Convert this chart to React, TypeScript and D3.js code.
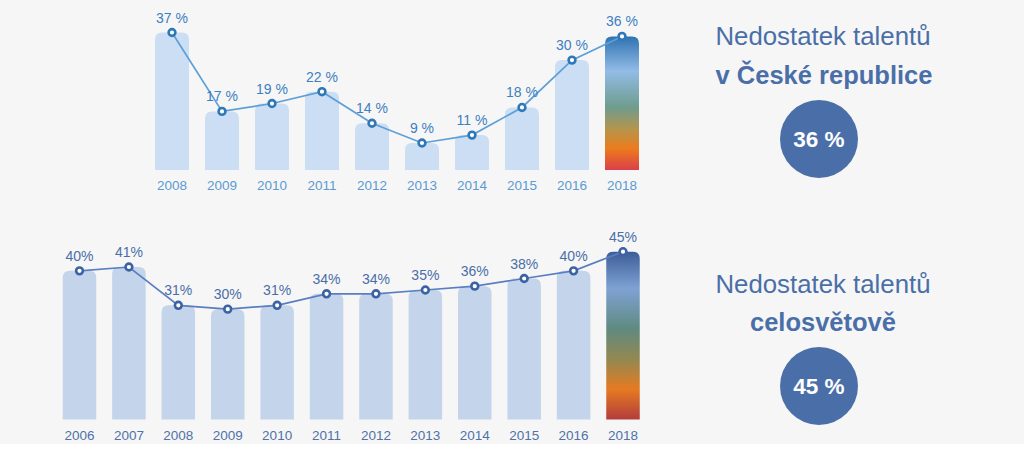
import React from "react";
import * as d3 from "d3";

const czYears = ["2008", "2009", "2010", "2011", "2012", "2013", "2014", "2015", "2016", "2018"];
const czValues = [37, 17, 19, 22, 14, 9, 11, 18, 30, 36];
const worldYears = ["2006", "2007", "2008", "2009", "2010", "2011", "2012", "2013", "2014", "2015", "2016", "2018"];
const worldValues = [40, 41, 31, 30, 31, 34, 34, 35, 36, 38, 40, 45];
const titleRegular = "Nedostatek talentů";
const czTitleBold = "v České republice";
const worldTitleBold = "celosvětově";

const FONT = "'Liberation Sans', Arial, Helvetica, sans-serif";

function topRounded(x: number, y: number, w: number, h: number, r: number) {
  const rr = Math.min(r, w / 2, h);
  return `M${x},${y + h} L${x},${y + rr} Q${x},${y} ${x + rr},${y} L${x + w - rr},${y} Q${x + w},${y} ${x + w},${y + rr} L${x + w},${y + h} Z`;
}

type PanelProps = {
  years: string[];
  values: number[];
  xRange: [number, number];
  yDomain: [number, number];
  yRange: [number, number];
  baseY: number;
  barW: number;
  barFill: string;
  gradId: string;
  lineColor: string;
  markerColor: string;
  valueColor: string;
  yearColor: string;
  sep: string;
  valueSize: number;
  yearSize: number;
  yearY: number;
};

function Panel(p: PanelProps) {
  const x = d3.scalePoint<string>().domain(p.years).range(p.xRange);
  const y = d3.scaleLinear().domain(p.yDomain).range(p.yRange);
  const pts = p.years.map((yr, i) => [x(yr) as number, y(p.values[i])] as [number, number]);
  const line = d3.line()(pts) || "";
  const last = p.years.length - 1;
  return (
    <g>
      {p.years.map((yr, i) => {
        const cx = x(yr) as number;
        const top = y(p.values[i]);
        return (
          <path
            key={"b" + yr}
            d={topRounded(cx - p.barW / 2, top, p.barW, p.baseY - top, 7)}
            fill={i === last ? `url(#${p.gradId})` : p.barFill}
          />
        );
      })}
      <path d={line} fill="none" stroke={p.lineColor} strokeWidth={1.7} />
      {pts.map(([px, py], i) => (
        <circle key={"m" + i} cx={px} cy={py} r={3.4} fill="#ffffff" stroke={p.markerColor} strokeWidth={2.6} />
      ))}
      {pts.map(([px, py], i) => (
        <text
          key={"v" + i}
          x={px}
          y={py - 10}
          textAnchor="middle"
          fontSize={p.valueSize}
          fill={p.valueColor}
          fontFamily={FONT}
        >
          {p.values[i] + p.sep + "%"}
        </text>
      ))}
      {p.years.map((yr) => (
        <text
          key={"y" + yr}
          x={x(yr) as number}
          y={p.yearY}
          textAnchor="middle"
          fontSize={p.yearSize}
          fill={p.yearColor}
          fontFamily={FONT}
        >
          {yr}
        </text>
      ))}
    </g>
  );
}

export default function App() {
  const navy = "#4a6fa8";
  return (
    <svg
      width={1024}
      height={459}
      viewBox="0 0 1024 459"
      style={{ position: "absolute", left: 0, top: 0, display: "block", background: "#ffffff" }}
    >
      <defs>
        <linearGradient id="gradCz" x1="0" y1="0" x2="0" y2="1">
          <stop offset="0" stopColor="#2f72b2" />
          <stop offset="0.26" stopColor="#92bce6" />
          <stop offset="0.53" stopColor="#6e9c8e" />
          <stop offset="0.7" stopColor="#b8944a" />
          <stop offset="0.84" stopColor="#ec7b1c" />
          <stop offset="1" stopColor="#dc3f4a" />
        </linearGradient>
        <linearGradient id="gradWorld" x1="0" y1="0" x2="0" y2="1">
          <stop offset="0" stopColor="#3c5d98" />
          <stop offset="0.22" stopColor="#7fa2d4" />
          <stop offset="0.46" stopColor="#5f8a80" />
          <stop offset="0.65" stopColor="#96884e" />
          <stop offset="0.82" stopColor="#e67a22" />
          <stop offset="1" stopColor="#b23c3c" />
        </linearGradient>
      </defs>
      <rect x={0} y={0} width={1024} height={444} fill="#f6f6f6" />

      <Panel
        years={czYears}
        values={czValues}
        xRange={[172, 622]}
        yDomain={[0, 37]}
        yRange={[178.5, 32.5]}
        baseY={170}
        barW={34}
        barFill="#cbdef3"
        gradId="gradCz"
        lineColor="#5d9fd8"
        markerColor="#2f78b8"
        valueColor="#3d7fc0"
        yearColor="#5b9ad2"
        sep=" "
        valueSize={14}
        yearSize={13.5}
        yearY={190}
      />
      <Panel
        years={worldYears}
        values={worldValues}
        xRange={[79.5, 623]}
        yDomain={[0, 45]}
        yRange={[424, 251.7]}
        baseY={419.5}
        barW={33.5}
        barFill="#c4d4eb"
        gradId="gradWorld"
        lineColor="#5a7fc0"
        markerColor="#3b63a3"
        valueColor="#4a6ea8"
        yearColor="#4f72a8"
        sep=""
        valueSize={14}
        yearSize={13.5}
        yearY={440}
      />

      <g fontFamily={FONT} fill={navy} textAnchor="middle">
        <text x={823} y={45} fontSize={25.8}>{titleRegular}</text>
        <text x={824} y={84} fontSize={25.5} fontWeight="bold">{czTitleBold}</text>
        <circle cx={819} cy={139} r={39} fill={navy} />
        <text x={819} y={147} fontSize={22.5} fontWeight="bold" fill="#ffffff">
          {czValues[czValues.length - 1] + " %"}
        </text>

        <text x={823} y={293} fontSize={25.8}>{titleRegular}</text>
        <text x={823} y={331} fontSize={25.5} fontWeight="bold">{worldTitleBold}</text>
        <circle cx={819} cy={386} r={39} fill={navy} />
        <text x={819} y={394} fontSize={22.5} fontWeight="bold" fill="#ffffff">
          {worldValues[worldValues.length - 1] + " %"}
        </text>
      </g>
    </svg>
  );
}
